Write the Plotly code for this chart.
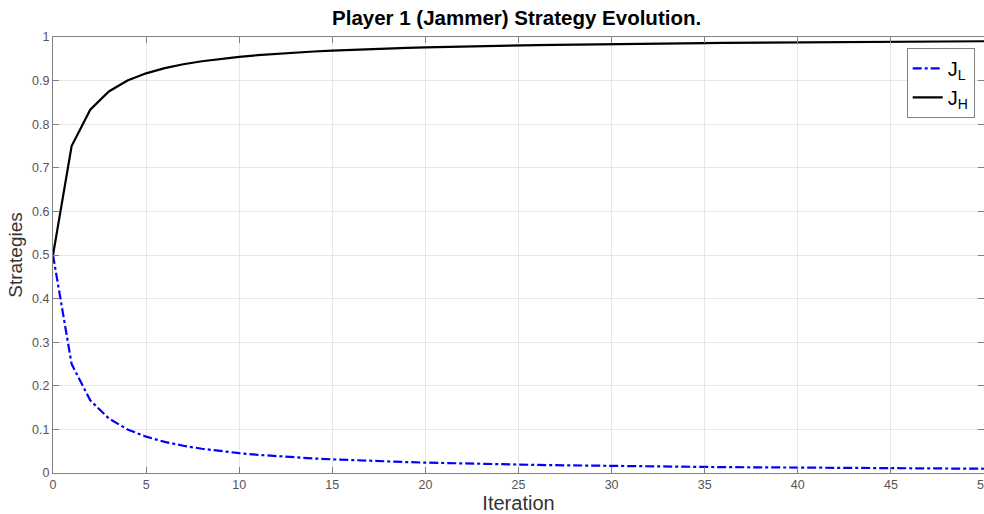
import plotly.graph_objects as go

iterations = list(range(51))
j_low = [0.5, 0.25, 0.1667, 0.125, 0.1, 0.0833, 0.0714, 0.0625, 0.0556, 0.05,
         0.0455, 0.0417, 0.0385, 0.0357, 0.0333, 0.0313, 0.0294, 0.0278, 0.0263, 0.025,
         0.0238, 0.0227, 0.0217, 0.0208, 0.02, 0.0192, 0.0185, 0.0179, 0.0172, 0.0167,
         0.0161, 0.0156, 0.0152, 0.0147, 0.0143, 0.0139, 0.0135, 0.0132, 0.0128, 0.0125,
         0.0122, 0.0119, 0.0116, 0.0114, 0.0111, 0.0109, 0.0106, 0.0104, 0.0102, 0.01,
         0.0098]
j_high = [0.5, 0.75, 0.8333, 0.875, 0.9, 0.9167, 0.9286, 0.9375, 0.9444, 0.95,
          0.9545, 0.9583, 0.9615, 0.9643, 0.9667, 0.9687, 0.9706, 0.9722, 0.9737, 0.975,
          0.9762, 0.9773, 0.9783, 0.9792, 0.98, 0.9808, 0.9815, 0.9821, 0.9828, 0.9833,
          0.9839, 0.9844, 0.9848, 0.9853, 0.9857, 0.9861, 0.9865, 0.9868, 0.9872, 0.9875,
          0.9878, 0.9881, 0.9884, 0.9886, 0.9889, 0.9891, 0.9894, 0.9896, 0.9898, 0.99,
          0.9902]
x_ticks = [0, 5, 10, 15, 20, 25, 30, 35, 40, 45, 50]
y_ticks = [0, 0.1, 0.2, 0.3, 0.4, 0.5, 0.6, 0.7, 0.8, 0.9, 1]
y_tick_labels = ["0", "0.1", "0.2", "0.3", "0.4", "0.5", "0.6", "0.7", "0.8", "0.9", "1"]

FONT = "Arial, Liberation Sans, sans-serif"

fig = go.Figure()
fig.add_trace(go.Scatter(x=iterations, y=j_low, mode="lines", name="J<sub>L</sub>",
                         line=dict(color="#0000ff", width=2.2, dash="dashdot")))
fig.add_trace(go.Scatter(x=iterations, y=j_high, mode="lines", name="J<sub>H</sub>",
                         line=dict(color="#000000", width=2.2)))

axis_common = dict(showline=True, linecolor="#808080", linewidth=1, mirror="ticks",
                   ticks="inside", ticklen=6, tickcolor="#808080", automargin=False,
                   showgrid=True, gridcolor="#e6e6e6", gridwidth=1, zeroline=False,
                   ticklabeloverflow="allow",
                   tickfont=dict(family=FONT, size=12.5, color="#555555"))

fig.update_layout(
    width=984, height=514,
    margin=dict(l=53, r=0, t=37, b=41),
    paper_bgcolor="white", plot_bgcolor="white",
    title=dict(text="<b>Player 1 (Jammer) Strategy Evolution.</b>", x=0.525, xanchor="center",
               y=0.965, yanchor="middle",
               font=dict(family=FONT, size=20.5, color="#000000")),
    xaxis=dict(range=[0, 50], tickvals=x_ticks, ticktext=[str(v) for v in x_ticks],
               title=dict(text="Iteration", standoff=6,
                          font=dict(family=FONT, size=20, color="#333333")),
               **axis_common),
    yaxis=dict(range=[0, 1], tickvals=y_ticks, ticktext=y_tick_labels,
               title=dict(text="Strategies", standoff=4,
                          font=dict(family=FONT, size=19, color="#333333")),
               **axis_common),
    legend=dict(x=0.990, y=0.975, xanchor="right", yanchor="top",
                bgcolor="white", bordercolor="#808080", borderwidth=1,
                font=dict(family=FONT, size=20, color="#000000"),
                itemwidth=30, tracegroupgap=0),
    showlegend=True,
)

fig.write_html("out.html", config={"displayModeBar": False},
               post_script="document.body.style.margin='0';document.body.style.padding='0';"
                           "document.documentElement.style.overflow='hidden';")
